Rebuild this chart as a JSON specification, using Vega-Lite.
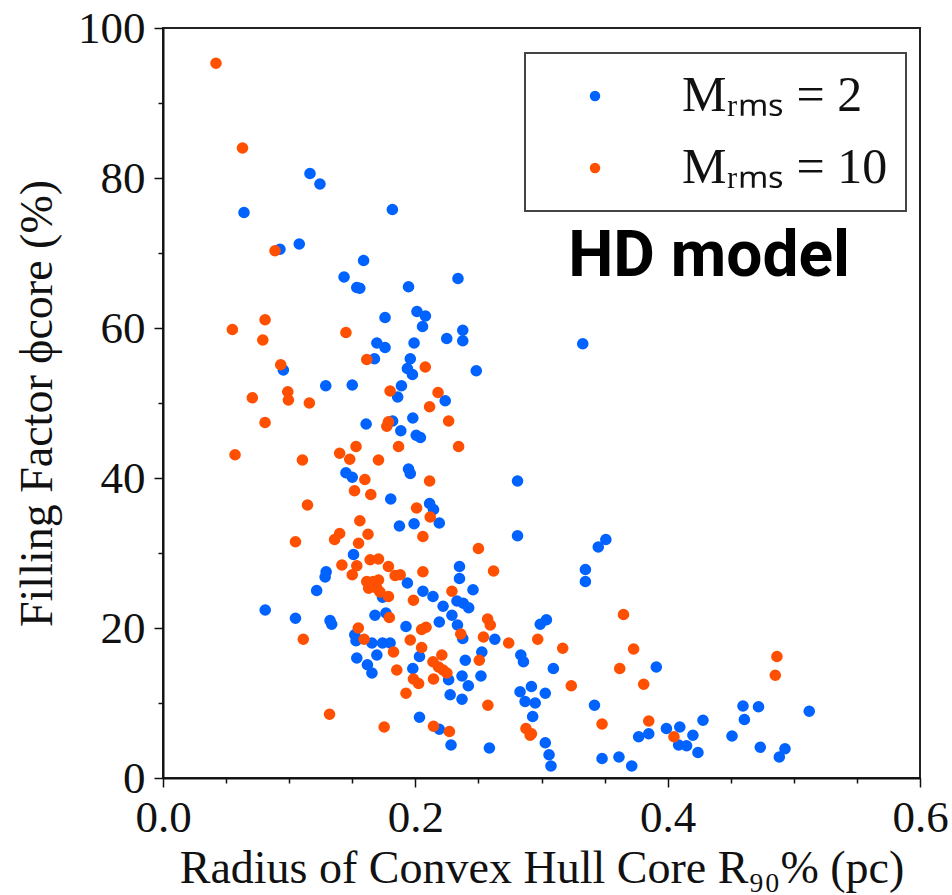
{
  "$schema": "https://vega.github.io/schema/vega-lite/v6.json",
  "autosize": {"type": "none"},
  "padding": {"left": 163, "top": 28, "right": 32, "bottom": 117},
  "width": 757,
  "height": 750,
  "background": "white",
  "config": {
    "view": {"stroke": "#222", "strokeWidth": 2},
    "font": "Liberation Serif",
    "legend": {"strokeWidth": 2}
  },
  "datasets": {
    "pts": [
      {"r":0.0642,"phi":75.4,"M":"2"},{"r":0.0927,"phi":70.5,"M":"2"},{"r":0.108,"phi":71.2,"M":"2"},{"r":0.1165,"phi":80.6,"M":"2"},{"r":0.1244,"phi":79.2,"M":"2"},
      {"r":0.159,"phi":69.0,"M":"2"},{"r":0.1818,"phi":75.8,"M":"2"},{"r":0.1435,"phi":66.8,"M":"2"},{"r":0.1536,"phi":65.4,"M":"2"},{"r":0.156,"phi":65.3,"M":"2"},
      {"r":0.1946,"phi":65.5,"M":"2"},{"r":0.176,"phi":61.4,"M":"2"},{"r":0.2013,"phi":62.2,"M":"2"},{"r":0.208,"phi":61.6,"M":"2"},{"r":0.2057,"phi":60.2,"M":"2"},
      {"r":0.1695,"phi":58.0,"M":"2"},{"r":0.176,"phi":57.4,"M":"2"},{"r":0.199,"phi":58.0,"M":"2"},{"r":0.1676,"phi":55.9,"M":"2"},{"r":0.196,"phi":55.9,"M":"2"},
      {"r":0.1937,"phi":54.6,"M":"2"},{"r":0.1977,"phi":53.8,"M":"2"},{"r":0.0954,"phi":54.4,"M":"2"},{"r":0.129,"phi":52.3,"M":"2"},{"r":0.150,"phi":52.4,"M":"2"},
      {"r":0.189,"phi":52.3,"M":"2"},{"r":0.186,"phi":50.8,"M":"2"},{"r":0.161,"phi":47.2,"M":"2"},{"r":0.182,"phi":47.6,"M":"2"},{"r":0.1885,"phi":46.3,"M":"2"},
      {"r":0.198,"phi":48.0,"M":"2"},{"r":0.2007,"phi":45.7,"M":"2"},{"r":0.204,"phi":45.4,"M":"2"},{"r":0.1946,"phi":41.2,"M":"2"},{"r":0.196,"phi":40.6,"M":"2"},
      {"r":0.145,"phi":40.7,"M":"2"},{"r":0.150,"phi":40.1,"M":"2"},{"r":0.1805,"phi":37.2,"M":"2"},{"r":0.1874,"phi":33.6,"M":"2"},{"r":0.199,"phi":33.9,"M":"2"},
      {"r":0.2338,"phi":66.6,"M":"2"},{"r":0.2376,"phi":59.7,"M":"2"},{"r":0.2376,"phi":58.3,"M":"2"},{"r":0.2249,"phi":58.6,"M":"2"},{"r":0.3327,"phi":57.9,"M":"2"},
      {"r":0.2483,"phi":54.3,"M":"2"},{"r":0.2237,"phi":50.3,"M":"2"},{"r":0.281,"phi":39.6,"M":"2"},{"r":0.2113,"phi":36.6,"M":"2"},{"r":0.2144,"phi":35.8,"M":"2"},
      {"r":0.219,"phi":34.0,"M":"2"},{"r":0.151,"phi":29.8,"M":"2"},{"r":0.1293,"phi":27.5,"M":"2"},{"r":0.1285,"phi":26.8,"M":"2"},{"r":0.174,"phi":24.1,"M":"2"},
      {"r":0.1937,"phi":26.0,"M":"2"},{"r":0.1218,"phi":25.0,"M":"2"},{"r":0.081,"phi":22.4,"M":"2"},{"r":0.105,"phi":21.3,"M":"2"},{"r":0.1324,"phi":21.0,"M":"2"},
      {"r":0.1337,"phi":20.5,"M":"2"},{"r":0.168,"phi":21.7,"M":"2"},{"r":0.1767,"phi":22.0,"M":"2"},{"r":0.1926,"phi":20.2,"M":"2"},{"r":0.152,"phi":19.1,"M":"2"},
      {"r":0.153,"phi":18.3,"M":"2"},{"r":0.1656,"phi":18.0,"M":"2"},{"r":0.174,"phi":18.0,"M":"2"},{"r":0.180,"phi":18.0,"M":"2"},{"r":0.1695,"phi":16.4,"M":"2"},
      {"r":0.1536,"phi":16.0,"M":"2"},{"r":0.162,"phi":15.1,"M":"2"},{"r":0.1656,"phi":14.0,"M":"2"},{"r":0.198,"phi":14.6,"M":"2"},{"r":0.2033,"phi":8.1,"M":"2"},
      {"r":0.281,"phi":32.3,"M":"2"},{"r":0.345,"phi":30.8,"M":"2"},{"r":0.351,"phi":31.8,"M":"2"},{"r":0.235,"phi":28.2,"M":"2"},{"r":0.235,"phi":26.6,"M":"2"},
      {"r":0.3348,"phi":27.8,"M":"2"},{"r":0.3348,"phi":26.2,"M":"2"},{"r":0.206,"phi":24.9,"M":"2"},{"r":0.214,"phi":24.2,"M":"2"},{"r":0.2457,"phi":25.1,"M":"2"},
      {"r":0.222,"phi":22.9,"M":"2"},{"r":0.233,"phi":23.6,"M":"2"},{"r":0.238,"phi":23.3,"M":"2"},{"r":0.2423,"phi":22.7,"M":"2"},{"r":0.229,"phi":21.7,"M":"2"},
      {"r":0.219,"phi":20.8,"M":"2"},{"r":0.2334,"phi":20.4,"M":"2"},{"r":0.2376,"phi":18.6,"M":"2"},{"r":0.263,"phi":18.5,"M":"2"},{"r":0.299,"phi":20.5,"M":"2"},
      {"r":0.3039,"phi":21.1,"M":"2"},{"r":0.2033,"phi":16.2,"M":"2"},{"r":0.2264,"phi":13.1,"M":"2"},{"r":0.2396,"phi":15.7,"M":"2"},{"r":0.2527,"phi":16.8,"M":"2"},
      {"r":0.237,"phi":13.6,"M":"2"},{"r":0.242,"phi":12.3,"M":"2"},{"r":0.252,"phi":13.6,"M":"2"},{"r":0.2276,"phi":11.1,"M":"2"},{"r":0.237,"phi":10.5,"M":"2"},
      {"r":0.2836,"phi":16.4,"M":"2"},{"r":0.2857,"phi":15.5,"M":"2"},{"r":0.3094,"phi":14.6,"M":"2"},{"r":0.283,"phi":11.5,"M":"2"},{"r":0.292,"phi":12.2,"M":"2"},
      {"r":0.287,"phi":10.2,"M":"2"},{"r":0.295,"phi":10.0,"M":"2"},{"r":0.303,"phi":11.3,"M":"2"},{"r":0.293,"phi":8.2,"M":"2"},{"r":0.342,"phi":9.7,"M":"2"},
      {"r":0.391,"phi":14.8,"M":"2"},{"r":0.377,"phi":5.5,"M":"2"},{"r":0.385,"phi":5.9,"M":"2"},{"r":0.219,"phi":6.5,"M":"2"},{"r":0.2283,"phi":4.4,"M":"2"},
      {"r":0.2587,"phi":4.0,"M":"2"},{"r":0.303,"phi":4.7,"M":"2"},{"r":0.306,"phi":3.1,"M":"2"},{"r":0.3075,"phi":1.6,"M":"2"},{"r":0.348,"phi":2.6,"M":"2"},
      {"r":0.3614,"phi":2.8,"M":"2"},{"r":0.3715,"phi":1.6,"M":"2"},{"r":0.399,"phi":6.6,"M":"2"},{"r":0.4096,"phi":6.8,"M":"2"},{"r":0.4087,"phi":4.4,"M":"2"},
      {"r":0.415,"phi":4.3,"M":"2"},{"r":0.42,"phi":5.7,"M":"2"},{"r":0.424,"phi":3.4,"M":"2"},{"r":0.428,"phi":7.7,"M":"2"},{"r":0.451,"phi":5.6,"M":"2"},
      {"r":0.4597,"phi":9.6,"M":"2"},{"r":0.472,"phi":9.5,"M":"2"},{"r":0.4608,"phi":7.8,"M":"2"},{"r":0.4734,"phi":4.1,"M":"2"},{"r":0.4885,"phi":2.8,"M":"2"},
      {"r":0.493,"phi":3.9,"M":"2"},{"r":0.5122,"phi":8.9,"M":"2"},
      {"r":0.042,"phi":95.3,"M":"10"},{"r":0.063,"phi":84.0,"M":"10"},{"r":0.0888,"phi":70.3,"M":"10"},{"r":0.0809,"phi":61.1,"M":"10"},{"r":0.055,"phi":59.8,"M":"10"},
      {"r":0.0791,"phi":58.4,"M":"10"},{"r":0.145,"phi":59.4,"M":"10"},{"r":0.1615,"phi":55.8,"M":"10"},{"r":0.0933,"phi":55.1,"M":"10"},{"r":0.180,"phi":51.6,"M":"10"},
      {"r":0.0708,"phi":50.7,"M":"10"},{"r":0.0989,"phi":51.5,"M":"10"},{"r":0.0994,"phi":50.4,"M":"10"},{"r":0.116,"phi":50.0,"M":"10"},{"r":0.0809,"phi":47.4,"M":"10"},
      {"r":0.1787,"phi":47.5,"M":"10"},{"r":0.1774,"phi":46.9,"M":"10"},{"r":0.0571,"phi":43.1,"M":"10"},{"r":0.1105,"phi":42.4,"M":"10"},{"r":0.153,"phi":44.2,"M":"10"},
      {"r":0.140,"phi":43.3,"M":"10"},{"r":0.148,"phi":42.5,"M":"10"},{"r":0.1708,"phi":42.4,"M":"10"},{"r":0.1867,"phi":44.2,"M":"10"},{"r":0.160,"phi":39.8,"M":"10"},
      {"r":0.1518,"phi":38.3,"M":"10"},{"r":0.1647,"phi":37.8,"M":"10"},{"r":0.1145,"phi":36.4,"M":"10"},{"r":0.2010,"phi":36.0,"M":"10"},{"r":0.156,"phi":34.3,"M":"10"},
      {"r":0.140,"phi":32.6,"M":"10"},{"r":0.136,"phi":31.8,"M":"10"},{"r":0.1625,"phi":32.5,"M":"10"},{"r":0.105,"phi":31.5,"M":"10"},{"r":0.155,"phi":31.3,"M":"10"},
      {"r":0.1418,"phi":28.4,"M":"10"},{"r":0.1536,"phi":28.3,"M":"10"},{"r":0.150,"phi":27.1,"M":"10"},{"r":0.1642,"phi":29.1,"M":"10"},{"r":0.1708,"phi":29.2,"M":"10"},
      {"r":0.1787,"phi":28.2,"M":"10"},{"r":0.184,"phi":27.0,"M":"10"},{"r":0.188,"phi":27.1,"M":"10"},{"r":0.1615,"phi":26.2,"M":"10"},{"r":0.1667,"phi":26.2,"M":"10"},
      {"r":0.1708,"phi":26.4,"M":"10"},{"r":0.163,"phi":25.3,"M":"10"},{"r":0.1695,"phi":25.3,"M":"10"},{"r":0.172,"phi":24.8,"M":"10"},{"r":0.1787,"phi":24.2,"M":"10"},
      {"r":0.1985,"phi":23.7,"M":"10"},{"r":0.1112,"phi":18.5,"M":"10"},{"r":0.1794,"phi":21.4,"M":"10"},{"r":0.1548,"phi":20.0,"M":"10"},{"r":0.1594,"phi":18.5,"M":"10"},
      {"r":0.1827,"phi":16.8,"M":"10"},{"r":0.196,"phi":18.4,"M":"10"},{"r":0.205,"phi":19.8,"M":"10"},{"r":0.2085,"phi":20.1,"M":"10"},{"r":0.205,"phi":17.4,"M":"10"},
      {"r":0.1853,"phi":14.4,"M":"10"},{"r":0.1985,"phi":13.2,"M":"10"},{"r":0.2026,"phi":12.6,"M":"10"},{"r":0.1926,"phi":11.3,"M":"10"},{"r":0.132,"phi":8.5,"M":"10"},
      {"r":0.1753,"phi":6.8,"M":"10"},{"r":0.2079,"phi":54.8,"M":"10"},{"r":0.218,"phi":51.4,"M":"10"},{"r":0.2113,"phi":49.5,"M":"10"},{"r":0.2264,"phi":47.6,"M":"10"},
      {"r":0.2343,"phi":44.2,"M":"10"},{"r":0.2113,"phi":39.6,"M":"10"},{"r":0.2118,"phi":34.8,"M":"10"},{"r":0.206,"phi":32.2,"M":"10"},{"r":0.25,"phi":30.6,"M":"10"},
      {"r":0.206,"phi":27.5,"M":"10"},{"r":0.262,"phi":27.6,"M":"10"},{"r":0.229,"phi":24.9,"M":"10"},{"r":0.2573,"phi":21.2,"M":"10"},{"r":0.2594,"phi":20.4,"M":"10"},
      {"r":0.236,"phi":19.2,"M":"10"},{"r":0.254,"phi":18.8,"M":"10"},{"r":0.274,"phi":18.0,"M":"10"},{"r":0.297,"phi":18.5,"M":"10"},{"r":0.3168,"phi":17.3,"M":"10"},
      {"r":0.365,"phi":21.8,"M":"10"},{"r":0.373,"phi":17.2,"M":"10"},{"r":0.214,"phi":15.5,"M":"10"},{"r":0.221,"phi":16.4,"M":"10"},{"r":0.2184,"phi":14.8,"M":"10"},
      {"r":0.225,"phi":14.0,"M":"10"},{"r":0.222,"phi":14.4,"M":"10"},{"r":0.2144,"phi":13.2,"M":"10"},{"r":0.2507,"phi":15.7,"M":"10"},{"r":0.2575,"phi":9.7,"M":"10"},
      {"r":0.3236,"phi":12.3,"M":"10"},{"r":0.348,"phi":7.2,"M":"10"},{"r":0.362,"phi":14.6,"M":"10"},{"r":0.381,"phi":12.5,"M":"10"},{"r":0.385,"phi":7.6,"M":"10"},
      {"r":0.2144,"phi":6.9,"M":"10"},{"r":0.227,"phi":6.2,"M":"10"},{"r":0.2877,"phi":6.6,"M":"10"},{"r":0.291,"phi":5.7,"M":"10"},{"r":0.292,"phi":5.9,"M":"10"},
      {"r":0.405,"phi":5.5,"M":"10"},{"r":0.4866,"phi":16.2,"M":"10"},{"r":0.4853,"phi":13.7,"M":"10"}
    ],
    "note": [{"label": "HD model"}]
  },
  "layer": [
    {
      "data": {"name": "pts"},
      "mark": {"type": "point", "filled": true, "size": 135, "opacity": 1, "strokeWidth": 0},
      "encoding": {
        "x": {
          "field": "r", "type": "quantitative",
          "scale": {"domain": [0, 0.6], "nice": false, "zero": false},
          "axis": {
            "title": "Radius of Convex Hull Core R₉₀% (pc)",
            "values": [0, 0.05, 0.1, 0.15, 0.2, 0.25, 0.3, 0.35, 0.4, 0.45, 0.5, 0.55, 0.6],
            "labelExpr": "round(datum.value*100) % 20 === 0 ? format(datum.value, '.1f') : ''",
            "tickSize": {"condition": {"test": "round(datum.value*100) % 20 === 0", "value": 9}, "value": 5},
            "grid": false,
            "domainColor": "#111", "domainWidth": 2,
            "tickColor": "#111", "tickWidth": 1.5,
            "labelFont": "Liberation Serif", "labelFontSize": 45, "labelColor": "#111",
            "labelPadding": 8, "labelFlush": false, "labelOverlap": false,
            "titleFont": "Liberation Serif", "titleFontSize": 46, "titleFontWeight": "normal", "titleColor": "#111",
            "titlePadding": 6
          }
        },
        "y": {
          "field": "phi", "type": "quantitative",
          "scale": {"domain": [0, 100], "nice": false},
          "axis": {
            "title": "Filling Factor ϕcore (%)",
            "values": [0,5,10,15,20,25,30,35,40,45,50,55,60,65,70,75,80,85,90,95,100],
            "labelExpr": "datum.value % 20 === 0 ? format(datum.value, 'd') : ''",
            "tickSize": {"condition": {"test": "datum.value % 20 === 0", "value": 9}, "value": 5},
            "grid": false,
            "domainColor": "#111", "domainWidth": 2,
            "tickColor": "#111", "tickWidth": 1.5,
            "labelFont": "Liberation Serif", "labelFontSize": 45, "labelColor": "#111",
            "labelPadding": 9, "labelFlush": false, "labelOverlap": false,
            "titleFont": "Liberation Serif", "titleFontSize": 46, "titleFontWeight": "normal", "titleColor": "#111",
            "titlePadding": 16
          }
        },
        "color": {
          "field": "M", "type": "nominal",
          "scale": {"domain": ["2", "10"], "range": ["#0062ff", "#ff4f00"]},
          "legend": {
            "title": null,
            "orient": "none",
            "legendX": 362,
            "legendY": 25,
            "labelExpr": "'Mᵣₘₛ = ' + datum.label",
            "labelFont": "Liberation Serif",
            "labelFontSize": 50,
            "labelLimit": 500,
            "labelColor": "#111",
            "symbolType": "circle",
            "symbolSize": 110,
            "symbolStrokeWidth": 0,
            "symbolOffset": 27,
            "labelOffset": 62,
            "rowPadding": 22,
            "padding": 18,
            "strokeColor": "#444",
            "fillColor": "white"
          }
        }
      }
    },
    {
      "data": {"name": "note"},
      "mark": {"type": "text", "font": "Roboto", "fontWeight": "bold", "fontSize": 64, "align": "center", "baseline": "alphabetic", "color": "#000"},
      "encoding": {
        "x": {"datum": 0.4328, "type": "quantitative"},
        "y": {"datum": 67.0, "type": "quantitative"},
        "text": {"field": "label"}
      }
    }
  ]
}
